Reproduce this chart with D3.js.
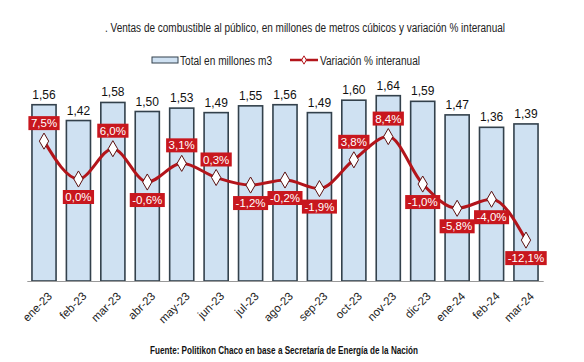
<!DOCTYPE html>
<html><head><meta charset="utf-8">
<script src="https://cdn.jsdelivr.net/npm/d3@7"></script>
<style>
body{margin:0;background:#fff;}
text{font-family:"Liberation Sans",Arial,sans-serif;}
</style></head><body>
<svg id="c" width="584" height="362"></svg>
<script>
const categories = ["ene-23","feb-23","mar-23","abr-23","may-23","jun-23","jul-23","ago-23","sep-23","oct-23","nov-23","dic-23","ene-24","feb-24","mar-24"];
const totals = [1.56,1.42,1.58,1.50,1.53,1.49,1.55,1.56,1.49,1.60,1.64,1.59,1.47,1.36,1.39];
const variation = [7.5,0.0,6.0,-0.6,3.1,0.3,-1.2,-0.2,-1.9,3.8,8.4,-1.0,-5.8,-4.0,-12.1];
const labelAbove = [true,false,true,false,true,true,false,false,false,true,true,false,false,false,false];
const title = ". Ventas de combustible al público, en millones de metros cúbicos y variación % interanual";
const legendLabels = ["Total en millones m3","Variación % interanual"];
const source = "Fuente: Politikon Chaco en base a Secretaría de Energía de la Nación";

const fmt = v => v.toFixed(2).replace(".", ",");
const fmtP = v => v.toFixed(1).replace(".", ",") + "%";

const svg = d3.select("#c");
const x = d3.scaleBand().domain(categories).range([26.8, 543.2]).paddingInner(0.3).paddingOuter(0.15);
const y = d3.scaleLinear().domain([0, 2]).range([281, 55]);
const y2 = d3.scaleLinear().domain([-20, 10]).range([280, 128.5]);

const barFill = "#cfe1f2", barStroke = "#33414c", red = "#b3151b", boxRed = "#c8171e";

// title
svg.append("text").attr("x", 105).attr("y", 32).attr("font-size", 12).attr("fill", "#222")
  .attr("textLength", 400).attr("lengthAdjust", "spacingAndGlyphs").text(title);

// legend
svg.append("rect").attr("x", 152).attr("y", 57).attr("width", 26).attr("height", 6).attr("fill", barFill).attr("stroke", barStroke).attr("stroke-width", 1);
svg.append("text").attr("x", 180).attr("y", 64.5).attr("font-size", 12).attr("fill", "#222")
  .attr("textLength", 92).attr("lengthAdjust", "spacingAndGlyphs").text(legendLabels[0]);
svg.append("line").attr("x1", 290).attr("x2", 318).attr("y1", 60).attr("y2", 60).attr("stroke", red).attr("stroke-width", 2.5);
svg.append("path").attr("d", d3.symbol(d3.symbolDiamond, 20)()).attr("transform", "translate(304,60)").attr("fill", "#fff").attr("stroke", red).attr("stroke-width", 1);
svg.append("text").attr("x", 320).attr("y", 64.5).attr("font-size", 12).attr("fill", "#222")
  .attr("textLength", 100).attr("lengthAdjust", "spacingAndGlyphs").text(legendLabels[1]);

// bars
svg.selectAll("rect.bar").data(totals).join("rect").attr("class", "bar")
  .attr("x", (d, i) => x(categories[i])).attr("width", x.bandwidth())
  .attr("y", d => y(d)).attr("height", d => y(0) - y(d))
  .attr("fill", barFill).attr("stroke", barStroke).attr("stroke-width", 1.6);

svg.selectAll("text.val").data(totals).join("text").attr("class", "val")
  .attr("x", (d, i) => x(categories[i]) + x.bandwidth() / 2).attr("y", d => y(d) - 6)
  .attr("text-anchor", "middle").attr("font-size", 12).attr("fill", "#111").text(fmt);

// axis
const axis = svg.append("g").attr("transform", "translate(0,281)").call(d3.axisBottom(x).tickSize(0).tickPadding(0));
axis.select(".domain").attr("stroke", "#999").attr("stroke-width", 1);
axis.selectAll("text").attr("font-size", 11.5).attr("fill", "#222").attr("text-anchor", "end")
  .attr("transform", "translate(6,13) rotate(-45)").attr("dy", "0.35em").attr("font-family", "'Liberation Sans',Arial,sans-serif");

// line
const line = d3.line().x((d, i) => x(categories[i]) + x.bandwidth() / 2).y(d => y2(d)).curve(d3.curveMonotoneX);
svg.append("path").datum(variation).attr("d", line).attr("fill", "none").attr("stroke", red).attr("stroke-width", 3);

svg.selectAll("path.mk").data(variation).join("path").attr("class", "mk")
  .attr("d", d3.symbol(d3.symbolDiamond, 75)())
  .attr("transform", (d, i) => `translate(${x(categories[i]) + x.bandwidth() / 2},${y2(d)})`)
  .attr("fill", "#fff").attr("stroke", "#5a1010").attr("stroke-width", 1);

// labels
const lg = svg.selectAll("g.lbl").data(variation).join("g").attr("class", "lbl")
  .attr("transform", (d, i) => `translate(${x(categories[i]) + x.bandwidth() / 2},${y2(d) + (labelAbove[i] ? -18 : 18)})`);
lg.each(function(d) {
  const g = d3.select(this);
  const t = g.append("text").attr("text-anchor", "middle").attr("dy", "0.36em").attr("font-size", 11.5).attr("fill", "#fff").text(fmtP(d));
  const w = t.node().getComputedTextLength() + 5;
  g.insert("rect", "text").attr("x", -w / 2).attr("y", -7).attr("width", w).attr("height", 14).attr("fill", boxRed);
});

// source
svg.append("text").attr("x", 150).attr("y", 354).attr("font-size", 11.5).attr("font-weight", "bold").attr("fill", "#111")
  .attr("textLength", 268).attr("lengthAdjust", "spacingAndGlyphs").text(source);
</script>
</body></html>
